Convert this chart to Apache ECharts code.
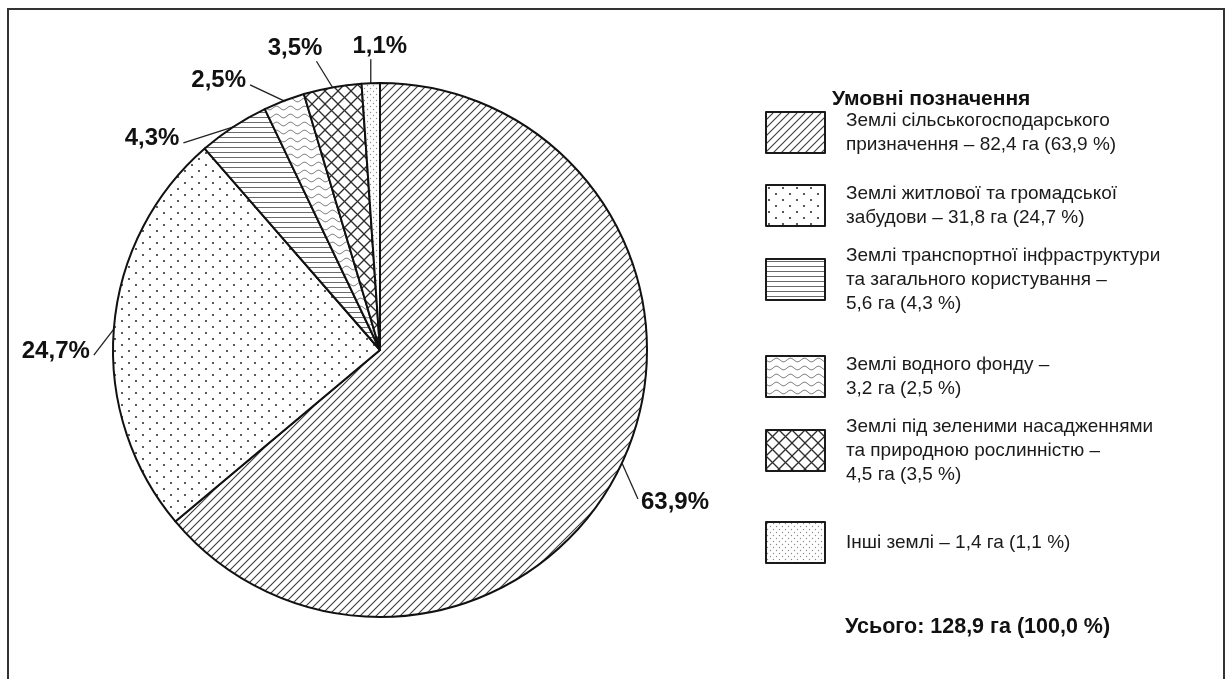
<!DOCTYPE html>
<html>
<head>
<meta charset="utf-8">
<script src="https://cdn.jsdelivr.net/npm/echarts@6/dist/echarts.min.js"></script>
<style>
  html, body { margin: 0; padding: 0; background: #fff; }
  #chart { width: 1227px; height: 679px; }
</style>
</head>
<body>
<div id="chart"></div>
<script>
// Land categories (line breaks as set in the legend)
const categories = [
  'Землі сільськогосподарського\nпризначення',
  'Землі житлової та громадської\nзабудови',
  'Землі транспортної інфраструктури\nта загального користування',
  'Землі водного фонду',
  'Землі під зеленими насадженнями\nта природною рослинністю',
  'Інші землі'
];
// Area, hectares
const areaHa = [82.4, 31.8, 5.6, 3.2, 4.5, 1.4];
// Share of the total, %
const sharePct = [63.9, 24.7, 4.3, 2.5, 3.5, 1.1];
const totalHa = 128.9;
const totalPct = 100.0;

const legendTitle = 'Умовні позначення';
const totalLabel = 'Усього';

// ---- layout / style settings ----
const FONT = "'Liberation Sans', Arial, Helvetica, sans-serif";
const valueOnNewLine = [false, false, true, true, true, false];
const legendIconTop = [112, 185, 259, 356, 430, 521];
// leader line vector from the slice edge, and where the label sits at its end
const leaderVec = [[16, 36], [-20, 26], [-50, 16], [-34, -16], [-16, -26], [0, -24]];
const labelSide = ['right', 'left', 'left', 'left', 'above', 'aboveCenter'];

const fmt = v => v.toFixed(1).replace('.', ',');

// ---- hatch fills ----
function tile(w, h, draw) {
  const c = document.createElement('canvas');
  c.width = w; c.height = h;
  const ctx = c.getContext('2d');
  ctx.fillStyle = '#ffffff';
  ctx.fillRect(0, 0, w, h);
  draw(ctx, w, h);
  return { image: c, repeat: 'repeat' };
}
function seg(ctx, x1, y1, x2, y2) { ctx.beginPath(); ctx.moveTo(x1, y1); ctx.lineTo(x2, y2); ctx.stroke(); }
function dot(ctx, x, y, r) { ctx.beginPath(); ctx.arc(x, y, r, 0, Math.PI * 2); ctx.fill(); }

const fills = [
  // diagonal "/" hatch
  tile(8, 8, (ctx, w, h) => {
    ctx.strokeStyle = '#3a3a3a'; ctx.lineWidth = 1.1;
    seg(ctx, -1, h + 1, w + 1, -1);
    seg(ctx, -1, 1, 1, -1);
    seg(ctx, w - 1, h + 1, w + 1, h - 1);
  }),
  // sparse dots
  tile(14, 12, ctx => {
    ctx.fillStyle = '#333';
    dot(ctx, 3, 3, 1.1); dot(ctx, 10, 9, 1.1);
  }),
  // horizontal lines
  tile(6, 5, ctx => {
    ctx.strokeStyle = '#6a6a6a'; ctx.lineWidth = 1;
    seg(ctx, 0, 2.5, 6, 2.5);
  }),
  // wavy lines
  tile(14, 8, ctx => {
    ctx.strokeStyle = '#666'; ctx.lineWidth = 1;
    ctx.beginPath();
    for (let x = 0; x <= 14; x += 0.5) {
      const y = 4 + 1.8 * Math.sin(2 * Math.PI * x / 14);
      if (x === 0) ctx.moveTo(x, y); else ctx.lineTo(x, y);
    }
    ctx.stroke();
  }),
  // cross hatch
  tile(13, 13, (ctx, w, h) => {
    ctx.strokeStyle = '#2e2e2e'; ctx.lineWidth = 1.3;
    seg(ctx, -1, -1, w + 1, h + 1);
    seg(ctx, -1, h + 1, w + 1, -1);
  }),
  // fine light dots
  tile(6, 6, ctx => {
    ctx.fillStyle = '#8a8a8a';
    dot(ctx, 1.5, 1.5, 0.7); dot(ctx, 4.5, 4.5, 0.7);
  })
];

const legendText = categories.map((c, i) =>
  c + (valueOnNewLine[i] ? ' –\n' : ' – ') + fmt(areaHa[i]) + ' га (' + fmt(sharePct[i]) + ' %)');

const ICON_W = 59, ICON_H = 41, LINE_H = 24;
const padTopByLines = { 1: 0, 2: 5, 3: 32 };

const legends = categories.map((name, i) => {
  const lines = legendText[i].split('\n').length;
  const padTop = padTopByLines[lines];
  const boxTop = ICON_H / 2 - (lines * LINE_H + padTop) / 2;
  const overflow = Math.max(0, -boxTop);
  return {
    data: [name],
    orient: 'vertical',
    left: 765,
    top: legendIconTop[i] - overflow,
    padding: 0,
    itemWidth: ICON_W,
    itemHeight: ICON_H,
    icon: 'rect',
    selectedMode: false,
    itemStyle: { borderColor: '#1a1a1a', borderWidth: 2 },
    formatter: () => legendText[i],
    textStyle: {
      fontFamily: FONT, fontSize: 19, lineHeight: LINE_H, color: '#1a1a1a',
      padding: [padTop, 0, 0, 16]
    }
  };
});

const chart = echarts.init(document.getElementById('chart'), null, { renderer: 'canvas' });

chart.setOption({
  backgroundColor: '#ffffff',
  animation: false,
  title: [
    {
      text: legendTitle, left: 832, top: 89, padding: 0,
      textStyle: { fontFamily: FONT, fontSize: 21, fontWeight: 'bold', color: '#111' }
    },
    {
      text: totalLabel + ': ' + fmt(totalHa) + ' га (' + fmt(totalPct) + ' %)', left: 845, top: 616, padding: 0,
      textStyle: { fontFamily: FONT, fontSize: 21.5, fontWeight: 'bold', color: '#111' }
    }
  ],
  legend: legends,
  graphic: [{
    type: 'rect', silent: true, z: 100,
    shape: { x: 8, y: 9, width: 1216, height: 700 },
    style: { fill: 'none', stroke: '#333', lineWidth: 2 }
  }],
  series: [{
    type: 'pie',
    center: [380, 350],
    radius: 267,
    startAngle: 90,
    clockwise: true,
    silent: true,
    emphasis: { disabled: true },
    itemStyle: { borderColor: '#111', borderWidth: 2 },
    label: {
      show: true,
      position: 'outside',
      fontFamily: FONT, fontSize: 24, fontWeight: 'bold', color: '#111',
      formatter: p => fmt(sharePct[p.dataIndex]) + '%'
    },
    labelLine: { show: true, length: 20, length2: 0, lineStyle: { color: '#222', width: 1.3 } },
    labelLayout: p => {
      const pts = p.labelLinePoints;
      if (!pts) return {};
      const sx = pts[0][0], sy = pts[0][1];
      const v = leaderVec[p.dataIndex];
      const ex = sx + v[0], ey = sy + v[1];
      const out = { labelLinePoints: [[sx, sy], [ex, ey], [ex, ey]] };
      switch (labelSide[p.dataIndex]) {
        case 'right': Object.assign(out, { x: ex + 3, y: ey + 3, align: 'left', verticalAlign: 'middle' }); break;
        case 'left': Object.assign(out, { x: ex - 4, y: ey - 4, align: 'right', verticalAlign: 'middle' }); break;
        case 'above': Object.assign(out, { x: ex + 6, y: ey - 1, align: 'right', verticalAlign: 'bottom' }); break;
        default: Object.assign(out, { x: ex + 9, y: ey - 1, align: 'center', verticalAlign: 'bottom' });
      }
      return out;
    },
    data: categories.map((name, i) => ({
      name, value: sharePct[i], itemStyle: { color: fills[i] }
    }))
  }]
});
</script>
</body>
</html>
